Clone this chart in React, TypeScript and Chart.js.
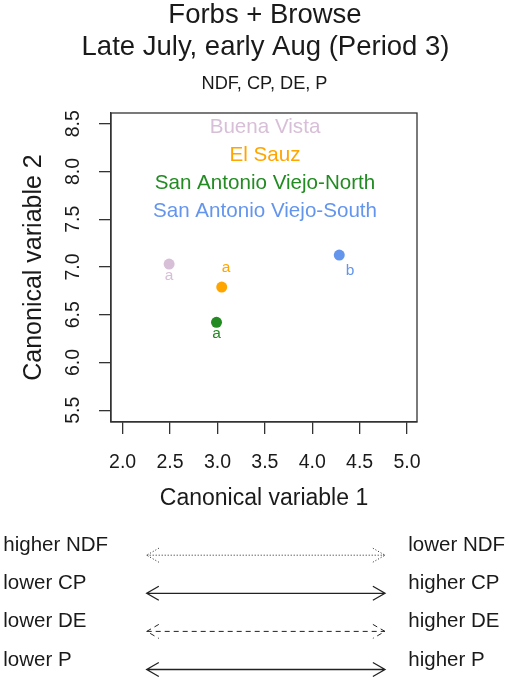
import React, { useEffect, useRef } from 'react';
import { Chart, registerables } from 'chart.js';

Chart.register(...registerables);

// ---------- data ----------
const SITES = ['Buena Vista', 'El Sauz', 'San Antonio Viejo-North', 'San Antonio Viejo-South'];
const CV1 = [2.49, 3.045, 2.99, 4.285];
const CV2 = [7.03, 6.79, 6.42, 7.125];
const GROUP_LETTERS = ['a', 'a', 'a', 'b'];
const X_TICKS = [2.0, 2.5, 3.0, 3.5, 4.0, 4.5, 5.0];
const Y_TICKS = [5.5, 6.0, 6.5, 7.0, 7.5, 8.0, 8.5];
const TITLE_LINES = ['Forbs + Browse', 'Late July, early Aug (Period 3)'];
const SUBTITLE = 'NDF, CP, DE, P';
const X_LABEL = 'Canonical variable 1';
const Y_LABEL = 'Canonical variable 2';
const LEFT_LABELS = ['higher NDF', 'lower CP', 'lower DE', 'lower P'];
const RIGHT_LABELS = ['lower NDF', 'higher CP', 'higher DE', 'higher P'];

// ---------- styles ----------
const FONT = "'Liberation Sans', Arial, Helvetica, sans-serif";
const SITE_COLORS = ['#D8BFD8', '#FFA500', '#228B22', '#6495ED'];
const LETTER_OFFSETS = [
  [0, 11.5],
  [4.3, -19.8],
  [0, 11.5],
  [10.7, 15.2],
];
const ARROW_DASHES = [[1, 2], [], [5, 4], []];
const INK = '#1a1a1a';

function drawArrow(ctx: CanvasRenderingContext2D, x1: number, x2: number, y: number, dash: number[]) {
  const L = 14;
  const a = Math.PI / 6;
  const dx = L * Math.cos(a);
  const dy = L * Math.sin(a);
  ctx.setLineDash(dash);
  ctx.lineWidth = dash.length ? 1 : 1.3;
  ctx.beginPath();
  ctx.moveTo(x1, y);
  ctx.lineTo(x2, y);
  ctx.moveTo(x1 + dx, y - dy);
  ctx.lineTo(x1, y);
  ctx.lineTo(x1 + dx, y + dy);
  ctx.moveTo(x2 - dx, y - dy);
  ctx.lineTo(x2, y);
  ctx.lineTo(x2 - dx, y + dy);
  ctx.stroke();
  ctx.setLineDash([]);
}

const decorPlugin = {
  id: 'decor',
  afterDraw(chart: any) {
    const ctx: CanvasRenderingContext2D = chart.ctx;
    const { left, right, top, bottom } = chart.chartArea;
    const cx = (left + right) / 2;
    ctx.save();

    // plot box
    ctx.strokeStyle = '#333';
    ctx.lineWidth = 1.3;
    ctx.strokeRect(left, top, right - left, bottom - top);

    // titles
    ctx.fillStyle = INK;
    ctx.textAlign = 'center';
    ctx.textBaseline = 'alphabetic';
    ctx.font = `27.5px ${FONT}`;
    ctx.fillText(TITLE_LINES[0], cx + 1, 23.3);
    ctx.fillText(TITLE_LINES[1], cx + 1.5, 55);
    ctx.font = `18.2px ${FONT}`;
    ctx.fillText(SUBTITLE, cx + 0.5, 89.3);

    // legend text at top of plot
    ctx.font = `20.6px ${FONT}`;
    SITES.forEach((s, i) => {
      ctx.fillStyle = SITE_COLORS[i];
      ctx.fillText(s, cx + 1, top + 19.5 + i * 28.1);
    });

    // group letters
    ctx.font = `15.5px ${FONT}`;
    ctx.textBaseline = 'middle';
    SITES.forEach((_, i) => {
      const el = chart.getDatasetMeta(i).data[0];
      if (!el) return;
      ctx.fillStyle = SITE_COLORS[i];
      ctx.fillText(GROUP_LETTERS[i], el.x + LETTER_OFFSETS[i][0], el.y + LETTER_OFFSETS[i][1]);
    });

    // bottom direction arrows
    ctx.textBaseline = 'alphabetic';
    ctx.font = `20.5px ${FONT}`;
    ctx.strokeStyle = '#222';
    LEFT_LABELS.forEach((lab, i) => {
      const base = 551.2 + i * 38.1;
      ctx.fillStyle = INK;
      ctx.textAlign = 'left';
      ctx.fillText(lab, 3.3, base);
      ctx.fillText(RIGHT_LABELS[i], 408.3, base);
      drawArrow(ctx, 146.7, 385, base + 4.0, ARROW_DASHES[i]);
    });

    ctx.restore();
  },
};

export default function App() {
  const ref = useRef<HTMLCanvasElement | null>(null);

  useEffect(() => {
    if (!ref.current) return;
    const tickFmt = (v: any) => Number(v).toFixed(1);
    const chart = new Chart(ref.current, {
      type: 'scatter',
      data: {
        datasets: SITES.map((s, i) => ({
          label: s,
          data: [{ x: CV1[i], y: CV2[i] }],
          backgroundColor: SITE_COLORS[i],
          borderColor: SITE_COLORS[i],
          pointRadius: 5.5,
          pointBorderWidth: 0,
          showLine: false,
        })),
      },
      options: {
        responsive: false,
        animation: false,
        devicePixelRatio: 1,
        layout: { padding: { top: 113, left: 0, right: 92, bottom: 166 } },
        plugins: {
          legend: { display: false },
          tooltip: { enabled: false },
          title: { display: false },
        },
        scales: {
          x: {
            type: 'linear',
            min: 1.877,
            max: 5.105,
            afterBuildTicks: (s: any) => {
              s.ticks = X_TICKS.map((v) => ({ value: v }));
            },
            afterFit: (s: any) => {
              s.height = 90;
            },
            grid: { display: true, drawOnChartArea: false, drawTicks: true, tickLength: 12, color: '#333', lineWidth: 1.3 },
            border: { display: true, color: '#333', width: 1.3 },
            ticks: {
              font: { family: FONT, size: 19.5 },
              color: INK,
              padding: 17.3,
              minRotation: 0,
              maxRotation: 0,
              autoSkip: false,
              callback: tickFmt,
            },
            title: {
              display: true,
              text: X_LABEL,
              font: { family: FONT, size: 23 },
              color: INK,
              padding: { top: 0, bottom: 0 },
            },
          },
          y: {
            type: 'linear',
            min: 5.377,
            max: 8.612,
            afterBuildTicks: (s: any) => {
              s.ticks = Y_TICKS.map((v) => ({ value: v }));
            },
            afterFit: (s: any) => {
              s.width = 111;
            },
            grid: { display: true, drawOnChartArea: false, drawTicks: true, tickLength: 12, color: '#333', lineWidth: 1.3 },
            border: { display: true, color: '#333', width: 1.3 },
            ticks: {
              font: { family: FONT, size: 19.5 },
              color: INK,
              padding: 11.4,
              minRotation: 90,
              maxRotation: 90,
              crossAlign: 'center',
              autoSkip: false,
              callback: tickFmt,
            },
            title: {
              display: true,
              text: Y_LABEL,
              font: { family: FONT, size: 25 },
              color: INK,
              padding: { top: 19, bottom: 0 },
            },
          },
        },
      } as any,
      plugins: [decorPlugin],
    });
    return () => chart.destroy();
  }, []);

  return (
    <canvas
      ref={ref}
      width={509}
      height={678}
      style={{ position: 'absolute', left: 0, top: 0, width: 509, height: 678 }}
    />
  );
}
